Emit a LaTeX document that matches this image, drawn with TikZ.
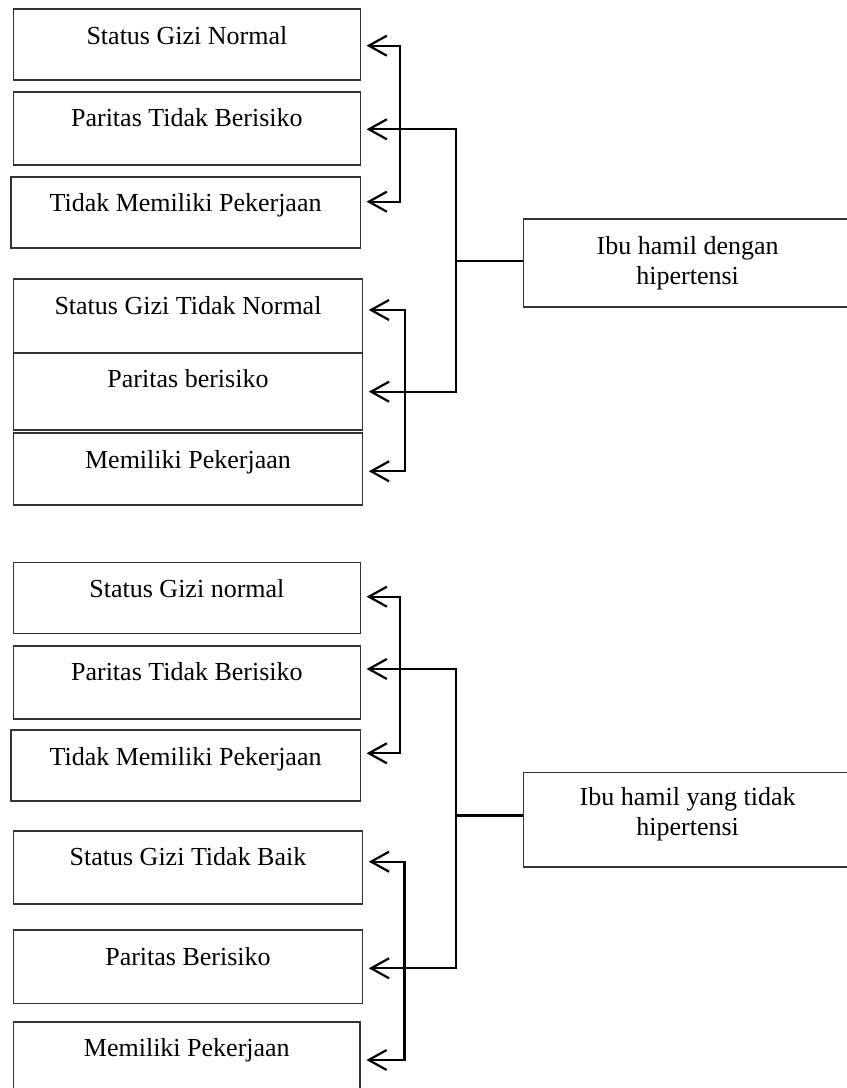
\documentclass[tikz,border=0pt]{standalone}
\usepackage{fontspec}
\setmainfont{Liberation Serif}
\usetikzlibrary{arrows.meta,positioning}

\begin{document}
\begin{tikzpicture}[>={Straight Barb[length=18bp,width=20bp]},line join=miter,
  kotak/.style={draw=black!80,line width=1.6bp,inner sep=0pt,anchor=north west,
    text height=35bp,font=\fontsize{26bp}{30bp}\selectfont},
  panah/.style={<->,line width=2.2bp,shorten <=5.5bp,shorten >=5.5bp},
  garis/.style={line width=2.2bp}]
\useasboundingbox (0bp,0bp) rectangle (847bp,1088bp);
\clip (0bp,0bp) rectangle (847bp,1088bp);
% kelompok hipertensi
\node [kotak,minimum width=346.8bp,text depth=36bp] (gizi1) at (12.7bp,1079.7bp) {Status Gizi Normal};
\node [kotak,minimum width=346.8bp,text depth=38bp] (paritas1) at (12.7bp,997bp) {Paritas Tidak Berisiko};
\node [kotak,minimum width=349.5bp,text depth=36bp] (kerja1) at (10bp,912bp) {Tidak Memiliki Pekerjaan};
\node [kotak,minimum width=349bp,text depth=38.7bp] (gizi2) at (12.7bp,809.7bp) {Status Gizi Tidak Normal};
\node [kotak,minimum width=349bp,text depth=42.3bp] (paritas2) at (12.7bp,736bp) {Paritas berisiko};
\node [kotak,minimum width=349bp,text depth=36.7bp] (kerja2) at (12.7bp,655.7bp) {Memiliki Pekerjaan};
\node [kotak,align=center,minimum width=328.3bp,text height=65bp,text depth=22.7bp] (ibu1) at (522.7bp,869.7bp) {Ibu hamil dengan\\hipertensi};
% kelompok tidak hipertensi
\node [kotak,minimum width=346.8bp,text depth=36bp] (gizi3) at (12.7bp,526.3bp) {Status Gizi normal};
\node [kotak,minimum width=346.8bp,text depth=38.3bp] (paritas3) at (12.7bp,443bp) {Paritas Tidak Berisiko};
\node [kotak,minimum width=349.5bp,text depth=35.7bp] (kerja3) at (10bp,358.7bp) {Tidak Memiliki Pekerjaan};
\node [kotak,minimum width=349bp,text depth=38.3bp] (gizi4) at (12.7bp,258bp) {Status Gizi Tidak Baik};
\node [kotak,minimum width=349bp,text depth=38.4bp] (paritas4) at (12.7bp,158.7bp) {Paritas Berisiko};
\node [kotak,minimum width=346.6bp,text depth=38bp] (kerja4) at (12.7bp,67bp) {Memiliki Pekerjaan};
\node [kotak,align=center,minimum width=328.3bp,text height=63.5bp,text depth=30.8bp] (ibu2) at (522.7bp,316.3bp) {Ibu hamil yang tidak\\hipertensi};

\coordinate (ka1) at (400bp,1042.3bp);
\coordinate (ka2) at (400bp,886.3bp);
\coordinate (kb1) at (456bp,958.7bp);
\coordinate (kb2) at (456bp,696.3bp);
\coordinate (kb0) at (456bp,827.3bp);
\coordinate (kc1) at (405bp,778bp);
\coordinate (kc2) at (405bp,616.7bp);
\draw [panah] (gizi1.east |- ka1) -- (ka1) -- (ka2) -- (kerja1.east |- ka2);
\draw [panah] (paritas1.east |- kb1) -- (kb1) -- (kb2) -- (paritas2.east |- kb2);
\draw [garis] (kb0) -- (kb0 -| ibu1.west);
\draw [panah] (gizi2.east |- kc1) -- (kc1) -- (kc2) -- (kerja2.east |- kc2);

\coordinate (kd1) at (400bp,491.3bp);
\coordinate (kd2) at (400bp,334.7bp);
\coordinate (ke1) at (456bp,419bp);
\coordinate (ke2) at (456bp,119.7bp);
\coordinate (ke0) at (456bp,272.5bp);
\coordinate (kf1) at (404.5bp,226.3bp);
\coordinate (kf2) at (404.5bp,28bp);
\draw [panah] (gizi3.east |- kd1) -- (kd1) -- (kd2) -- (kerja3.east |- kd2);
\draw [panah] (paritas3.east |- ke1) -- (ke1) -- (ke2) -- (paritas4.east |- ke2);
\draw [garis] (ke0) -- (ke0 -| ibu2.west);
\draw [panah] (gizi4.east |- kf1) -- (kf1) -- (kf2) -- (kerja4.east |- kf2);
\end{tikzpicture}
\end{document}
